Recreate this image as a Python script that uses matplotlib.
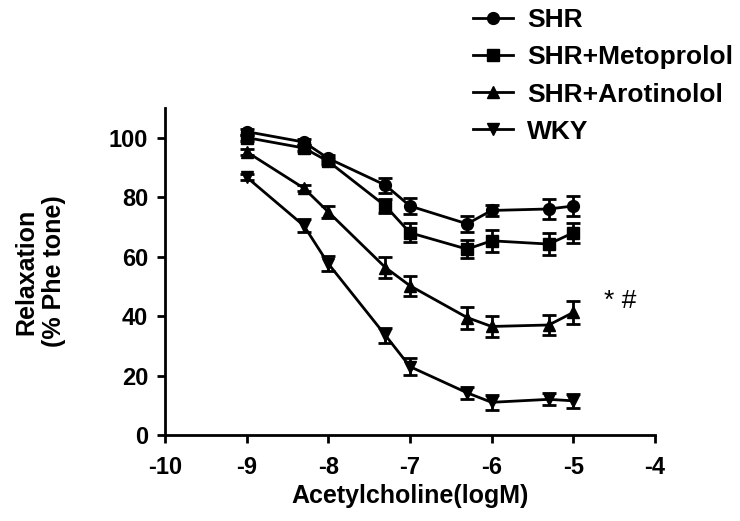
import matplotlib.pyplot as plt
from matplotlib.lines import Line2D

plt.rcParams['font.family'] = ['Liberation Sans', 'DejaVu Sans']
plt.rcParams['font.weight'] = 'bold'
plt.rcParams['axes.unicode_minus'] = False

logM = [-9, -8.3, -8, -7.3, -7, -6.3, -6, -5.3, -5]

shr = [102, 98.5, 93, 84, 77, 71, 75.5, 76, 77]
shr_err = [1, 1, 1, 2.5, 2.7, 2.8, 1.8, 3.4, 3.4]

meto = [100, 96.5, 92, 77, 68, 62.5, 65.3, 64.2, 68]
meto_err = [1, 1, 1, 2.5, 3.2, 3, 3.8, 3.8, 3.3]

aroti = [95.2, 83, 75, 56.3, 50.2, 39.5, 36.5, 37, 41.2]
aroti_err = [1, 1, 2.1, 3.4, 3.4, 3.7, 3.5, 3.5, 3.9]

wky = [86.7, 70.4, 57.6, 33.5, 23, 14.2, 11, 12, 11.5]
wky_err = [1, 2.3, 2.5, 2.4, 2.9, 2.1, 2.6, 2, 2.4]

names = ["SHR", "SHR+Metoprolol", "SHR+Arotinolol", "WKY"]
markers = ["o", "s", "^", "v"]

fig = plt.figure(figsize=(7.4, 5.21), dpi=100)
ax = fig.add_axes([0.223, 0.165, 0.662, 0.628])

series = [(shr, shr_err), (meto, meto_err), (aroti, aroti_err), (wky, wky_err)]
for (y, e), m, n in zip(series, markers, names):
    ax.errorbar(logM, y, yerr=e, color="black", marker=m, markersize=8.5,
                linewidth=2, elinewidth=2, capsize=5, capthick=2, label=n)

ax.set_xlim(-10, -4)
ax.set_ylim(0, 110)
ax.set_xticks([-10, -9, -8, -7, -6, -5, -4])
ax.set_yticks([0, 20, 40, 60, 80, 100])
ax.spines["top"].set_visible(False)
ax.spines["right"].set_visible(False)
ax.spines["left"].set_linewidth(2)
ax.spines["bottom"].set_linewidth(2)
ax.tick_params(width=2, length=6, labelsize=17)
ax.tick_params(axis="x", pad=9)
ax.tick_params(axis="y", pad=6)
for t in ax.get_xticklabels() + ax.get_yticklabels():
    t.set_fontweight("bold")

ax.set_xlabel("Acetylcholine(logM)", fontsize=18, fontweight="bold", labelpad=4)
ax.set_ylabel("Relaxation\n(% Phe tone)", fontsize=18, fontweight="bold", labelpad=31)

ax.text(-4.62, 45, "* #", fontsize=19, fontweight="normal", ha="left", va="center")

handles = [Line2D([], [], color="black", marker=m, markersize=8.5, linewidth=2)
           for m in markers]
fig.legend(handles=handles, labels=names, loc="upper left",
           bbox_to_anchor=(0.607, 1.03), frameon=False, fontsize=19,
           handlelength=1.5, labelspacing=0.5, handletextpad=0.55)

fig.savefig("out.png", dpi=100)
